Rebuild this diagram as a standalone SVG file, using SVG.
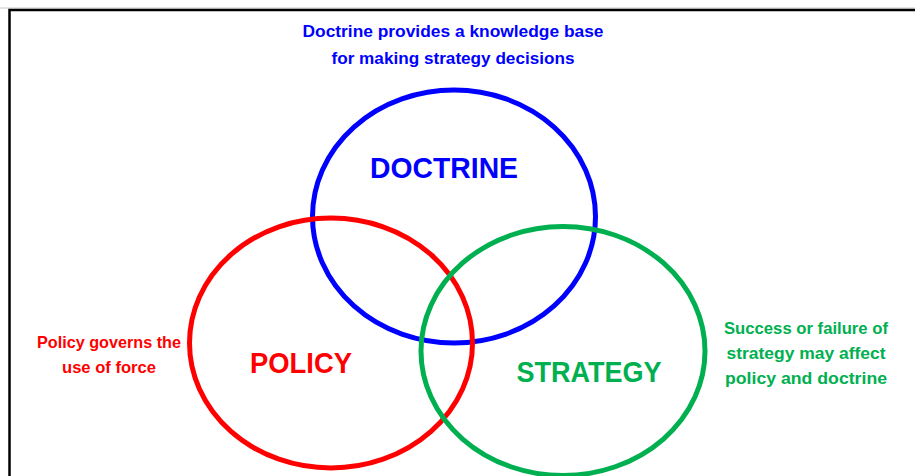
<svg xmlns="http://www.w3.org/2000/svg" width="915" height="476" viewBox="0 0 915 476">
<style>
.ring{fill:none;stroke-width:5}
.lbl{font-family:"Liberation Sans",Arial,sans-serif;font-weight:bold;text-anchor:middle}
.big{font-size:30px}
.sm{font-size:17px}
</style>
<rect width="915" height="476" fill="#fff"/>
<path d="M0,8 H915" stroke="#c8c8c8" stroke-width="1"/>
<path d="M9.5,476 V10 H915" fill="none" stroke="#000" stroke-width="2.5"/>
<g id="doctrine">
<ellipse class="ring" cx="454" cy="216.5" rx="141.5" ry="126.5" stroke="#0000FF"/>
<text class="lbl big" x="444" y="178" fill="#0000FF" textLength="148" lengthAdjust="spacingAndGlyphs">DOCTRINE</text>
</g>
<g id="policy">
<ellipse class="ring" cx="331" cy="343" rx="141.5" ry="125" stroke="#FF0000"/>
<text class="lbl big" x="301" y="373" fill="#FF0000" textLength="102" lengthAdjust="spacingAndGlyphs">POLICY</text>
</g>
<g id="strategy">
<ellipse class="ring" cx="563" cy="351" rx="142" ry="124.5" stroke="#00B050"/>
<text class="lbl big" x="589" y="382" fill="#00B050" textLength="145" lengthAdjust="spacingAndGlyphs">STRATEGY</text>
</g>
<g id="doctrine-note" class="lbl sm" fill="#0000FF">
<text x="453" y="37" textLength="301" lengthAdjust="spacingAndGlyphs">Doctrine provides a knowledge base</text>
<text x="453" y="64" textLength="243" lengthAdjust="spacingAndGlyphs">for making strategy decisions</text>
</g>
<g id="policy-note" class="lbl sm" fill="#FF0000">
<text x="109" y="348" textLength="144" lengthAdjust="spacingAndGlyphs">Policy governs the</text>
<text x="109" y="373" textLength="94" lengthAdjust="spacingAndGlyphs">use of force</text>
</g>
<g id="strategy-note" class="lbl sm" fill="#00B050">
<text x="806" y="334" textLength="164" lengthAdjust="spacingAndGlyphs">Success or failure of</text>
<text x="806" y="359" textLength="159" lengthAdjust="spacingAndGlyphs">strategy may affect</text>
<text x="806" y="384" textLength="162" lengthAdjust="spacingAndGlyphs">policy and doctrine</text>
</g>
<g id="connectors"></g>
</svg>
